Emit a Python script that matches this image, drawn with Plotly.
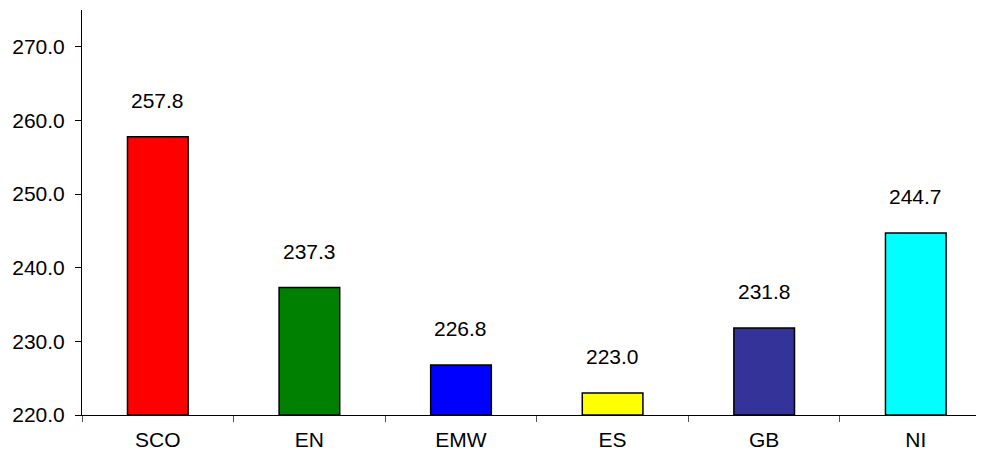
import plotly.graph_objects as go

categories = ["SCO", "EN", "EMW", "ES", "GB", "NI"]
values = [257.8, 237.3, 226.8, 223.0, 231.8, 244.7]
colors = ["#FF0000", "#008000", "#0000FF", "#FFFF00", "#333399", "#00FFFF"]
BASE = 220

FONT = "Liberation Sans, Arial, sans-serif"
FS = 21

fig = go.Figure()
fig.add_trace(go.Bar(
    x=categories, y=[v - BASE for v in values], base=BASE,
    marker=dict(color=colors, line=dict(color="black", width=1.5)),
    width=0.4,
))

for c, v in zip(categories, values):
    fig.add_annotation(x=c, y=v, text=f"{v:.1f}", showarrow=False,
                       yanchor="bottom", yshift=23,
                       font=dict(family=FONT, size=FS, color="black"))

# page body has an 8px default margin; size the figure to fill the rest
fig.update_layout(
    width=976, height=442,
    margin=dict(l=74, r=0, t=2, b=35),
    paper_bgcolor="white", plot_bgcolor="white",
    showlegend=False,
    font=dict(family=FONT, size=FS, color="black"),
)
fig.update_xaxes(
    type="category", range=[-0.5, 5.45], automargin=False,
    showline=True, linecolor="black", linewidth=1,
    ticks="outside", tickson="boundaries", ticklen=6, tickcolor="#555555",
    ticklabelstandoff=6,
    showgrid=False, zeroline=False,
    tickfont=dict(family=FONT, size=FS),
)
fig.update_yaxes(
    range=[220, 275], dtick=10, tick0=220, tickformat=".1f", automargin=False,
    showline=True, linecolor="black", linewidth=1,
    ticks="outside", ticklen=6, tickcolor="black",
    ticklabelstandoff=6,
    showgrid=False, zeroline=False,
    tickfont=dict(family=FONT, size=FS),
)

fig.write_html("out.html")
